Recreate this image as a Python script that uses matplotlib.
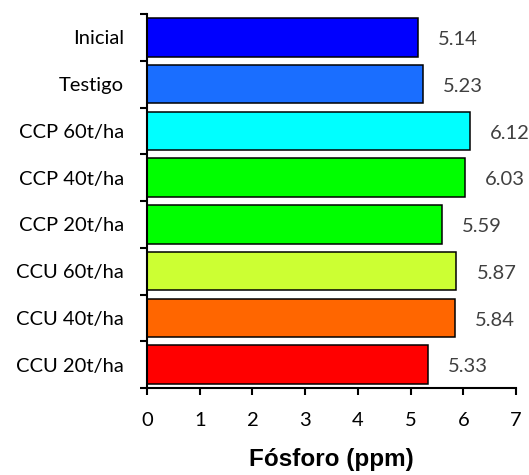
import matplotlib.pyplot as plt

# Datos
categorias = ["Inicial", "Testigo", "CCP 60t/ha", "CCP 40t/ha", "CCP 20t/ha",
              "CCU 60t/ha", "CCU 40t/ha", "CCU 20t/ha"]
valores = [5.14, 5.23, 6.12, 6.03, 5.59, 5.87, 5.84, 5.33]
colores = ["#0000FF", "#1A6EFF", "#00FFFF", "#00FF00", "#00FF00",
           "#CCFF33", "#FF6600", "#FF0000"]
xticks = [0, 1, 2, 3, 4, 5, 6, 7]

fuente = "Lato"

fig = plt.figure(figsize=(5.29, 4.75), dpi=100)
ax = fig.add_axes([147 / 529, 1 - 388 / 475, (516 - 147) / 529, (388 - 14) / 475])

pos = list(range(len(categorias)))[::-1]
ax.barh(pos, valores, height=0.82, color=colores, edgecolor="black", linewidth=1.1)

for p, v in zip(pos, valores):
    ax.text(v + 0.38, p - 0.05, f"{v:.2f}", ha="left", va="center",
            fontsize=14.5, color="#404040", family=fuente)

ax.set_xlim(0, 7)
ax.set_ylim(-0.5, len(categorias) - 0.5)
ax.set_xticks(xticks)
ax.set_xticklabels([str(t) for t in xticks], fontsize=14.5, family=fuente)

# etiquetas en el centro, marcas en los limites
ax.set_yticks(pos)
ax.set_yticklabels(categorias, fontsize=14.5, family=fuente)
ax.tick_params(axis="y", length=0, pad=16.5)
ax.set_yticks([i - 0.5 for i in range(len(categorias) + 1)], minor=True)
ax.tick_params(axis="y", which="minor", length=5, width=1.5, direction="out")
ax.tick_params(axis="x", length=5, width=1.5, direction="out", pad=12)

for s in ["top", "right"]:
    ax.spines[s].set_visible(False)
for s in ["left", "bottom"]:
    ax.spines[s].set_linewidth(1.5)

ax.set_xlabel("Fósforo (ppm)", fontsize=17.5, fontweight="bold",
              family="Liberation Sans", labelpad=14)

plt.savefig("out.png", dpi=100)
